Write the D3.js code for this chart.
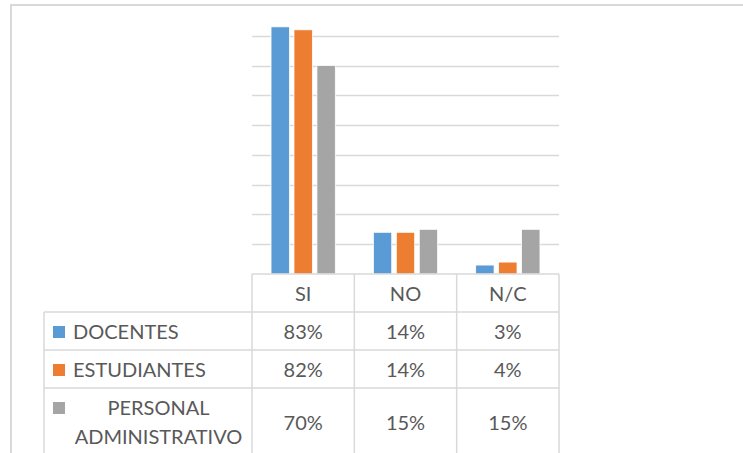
<!DOCTYPE html>
<html>
<head>
<meta charset="utf-8">
<script src="https://cdn.jsdelivr.net/npm/d3@7"></script>
<style>
    body { margin: 0; background: #fff; }
    svg text { font-family: Lato, "Open Sans", sans-serif; fill: #595959; }
</style>
</head>
<body>
<div id="chart"></div>
<script>
// Data
const categories = ['SI', 'NO', 'N/C'];
const seriesNames = ['DOCENTES', 'ESTUDIANTES', 'PERSONAL ADMINISTRATIVO'];
const docentes = [0.83, 0.14, 0.03];
const estudiantes = [0.82, 0.14, 0.04];
const personal = [0.70, 0.15, 0.15];
const seriesValues = [docentes, estudiantes, personal];
const colors = ['#5B9BD5', '#ED7D31', '#A5A5A5'];

// Layout
const width = 743,
    height = 453,
    plot = { left: 252, right: 559, top: 6, bottom: 274 },
    tableLeft = 44,
    rowTops = [312, 350, 388],
    lineColor = '#d9d9d9',
    fontSize = 20,
    pct = d3.format('.0%');

const svg = d3.select('#chart')
            .append('svg')
            .attr('width', width)
            .attr('height', height);

// Scales
const x = d3.scaleBand()
            .domain(categories)
            .range([plot.left, plot.right])
            .padding(0),
    xInner = d3.scaleBand()
            .domain(d3.range(seriesNames.length))
            .range([0, x.bandwidth()])
            .paddingInner(0.2)
            .paddingOuter(0.83),
    y = d3.scaleLinear()
            .domain([0, 0.9])
            .range([plot.bottom, plot.top]);

// Chart area border (top and left edges visible)
svg.append('path')
    .attr('d', `M11,${height}V5H${width}`)
    .attr('fill', 'none')
    .attr('stroke', lineColor)
    .attr('stroke-width', 2);

// Gridlines
svg.append('g')
    .selectAll('line')
    .data(y.ticks(9).filter(t => t > 0 && t < 0.85))
    .enter()
    .append('line')
    .attr('x1', plot.left)
    .attr('x2', plot.right)
    .attr('y1', d => Math.round(y(d)) + 0.5)
    .attr('y2', d => Math.round(y(d)) + 0.5)
    .attr('stroke', lineColor)
    .attr('stroke-width', 1.5);

// Bars
const groups = svg.append('g')
                .selectAll('g')
                .data(seriesValues)
                .enter()
                .append('g')
                .attr('fill', (d, i) => colors[i]);

groups.selectAll('rect')
    .data((d, i) => d.map((v, j) => ({ s: i, cat: categories[j], v: v })))
    .enter()
    .append('rect')
    .attr('x', d => x(d.cat) + xInner(d.s))
    .attr('width', xInner.bandwidth())
    .attr('y', d => y(d.v))
    .attr('height', d => y(0) - y(d.v))
    .attr('stroke', '#fff')
    .attr('stroke-width', 0.75);

// Data table lines
const grid = svg.append('g')
                .attr('stroke', lineColor)
                .attr('stroke-width', 1.5)
                .attr('fill', 'none');

grid.append('line')
    .attr('x1', plot.left).attr('x2', plot.right)
    .attr('y1', plot.bottom).attr('y2', plot.bottom);

grid.selectAll('.hline')
    .data(rowTops)
    .enter()
    .append('line')
    .attr('class', 'hline')
    .attr('x1', tableLeft).attr('x2', plot.right)
    .attr('y1', d => d).attr('y2', d => d);

grid.selectAll('.vline')
    .data(categories.map(c => x(c)).concat([plot.right]))
    .enter()
    .append('line')
    .attr('class', 'vline')
    .attr('x1', d => d).attr('x2', d => d)
    .attr('y1', plot.bottom).attr('y2', height);

grid.append('line')
    .attr('x1', tableLeft).attr('x2', tableLeft)
    .attr('y1', rowTops[0]).attr('y2', height);

// Header row
svg.append('g')
    .selectAll('text')
    .data(categories)
    .enter()
    .append('text')
    .attr('x', d => x(d) + x.bandwidth() / 2)
    .attr('y', 301)
    .attr('text-anchor', 'middle')
    .style('font-size', fontSize + 'px')
    .text(d => d);

// Rows: legend key, label and values
const baselines = [339, 377, 415];

seriesNames.forEach((name, i) => {
    const row = svg.append('g');

    row.append('rect')
        .attr('x', 53)
        .attr('y', baselines[i] - 13)
        .attr('width', 12)
        .attr('height', 12)
        .attr('fill', colors[i]);

    const words = name.split(' ');
    if (words.length > 1) {
        words.forEach((w, k) => {
            row.append('text')
                .attr('x', 158.5)
                .attr('y', baselines[i] + k * 29)
                .attr('text-anchor', 'middle')
                .style('font-size', fontSize + 'px')
                .text(w);
        });
    } else {
        row.append('text')
            .attr('x', 73)
            .attr('y', baselines[i])
            .style('font-size', fontSize + 'px')
            .text(name);
    }

    const valueY = i < 2 ? baselines[i] : 430;
    row.selectAll('.val')
        .data(seriesValues[i])
        .enter()
        .append('text')
        .attr('class', 'val')
        .attr('x', (d, j) => x(categories[j]) + x.bandwidth() / 2)
        .attr('y', valueY)
        .attr('text-anchor', 'middle')
        .style('font-size', fontSize + 'px')
        .text(d => pct(d));
});
</script>
</body>
</html>
